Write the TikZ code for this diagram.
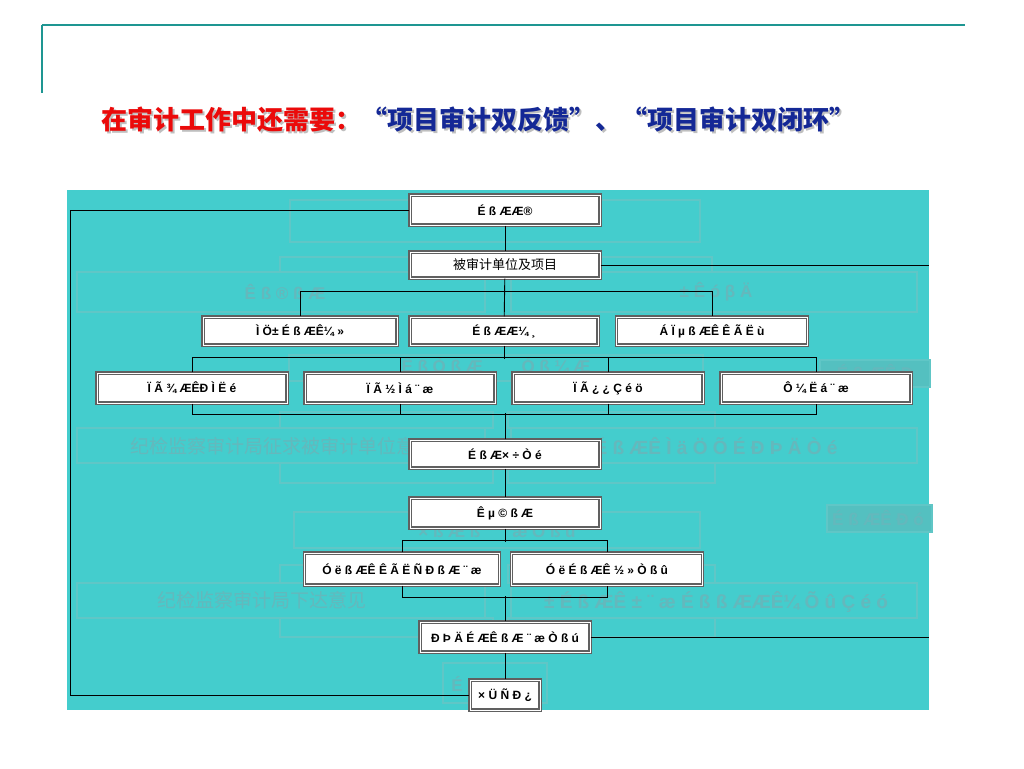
\documentclass[tikz,border=0pt]{standalone}
\usepackage{fontspec}
\setmainfont{Liberation Sans}
\newfontfamily\cjk{Noto Sans CJK SC}
\definecolor{bgteal}{RGB}{68,205,205}
\definecolor{ghostline}{RGB}{96,198,198}
\definecolor{ghosttxt}{RGB}{100,184,188}
\definecolor{ghostdark}{RGB}{84,192,192}
\definecolor{frameteal}{RGB}{30,150,146}
\definecolor{titlered}{RGB}{235,10,10}
\definecolor{titleblue}{RGB}{20,40,150}

\begin{document}
\begin{tikzpicture}[x=1pt,y=-1pt,
    box/.style={draw=gray!75!black,line width=1.1pt,double=white,double distance=1pt,
        fill=white,inner sep=0pt,minimum width=190pt,minimum height=30pt,
        font=\fontsize{12}{13}\selectfont\bfseries},
    ghost/.style={draw=ghostline,line width=1.2pt},
    ghosttext/.style={text=ghosttxt,font=\fontsize{17}{18}\selectfont\bfseries}]
    \tikzstyle{link}=[draw=black,line width=.9pt]

    \useasboundingbox (0,0) rectangle (1024,768);

    % slide frame and title
    \draw[frameteal,line width=2pt] (42,25) -- (965,25);
    \draw[frameteal,line width=1.5pt] (42,25) -- (42,93);
    \node[anchor=west,text=gray!50,font=\cjk\bfseries\fontsize{26}{28}\selectfont] (titleshadow) at (99.5,121.5)
        {在审计工作中还需要：“项目审计双反馈”、“项目审计双闭环”};
    \node[anchor=west,font=\cjk\bfseries\fontsize{26}{28}\selectfont] (title) at (98,120)
        {\textcolor{titlered}{在审计工作中还需要：}\textcolor{titleblue}{“项目审计双反馈”、“项目审计双闭环”}};

    % background and faint layer
    \fill[bgteal] (67,190) rectangle (929,710);
    \draw[ghost] (290,200) rectangle (700,242);
    \draw[ghost] (280,257) rectangle (493,272);
    \draw[ghost] (508,257) rectangle (712,272);
    \draw[ghost] (77,272) rectangle (485,312);
    \draw[ghost] (511,272) rectangle (917,312);
    \draw[ghost] (289,355) rectangle (703,381);
    \draw[ghost,fill=ghostdark] (820,360) rectangle (930,387);
    \draw[ghost] (280,412) rectangle (493,428);
    \draw[ghost] (508,412) rectangle (715,428);
    \draw[ghost] (77,428) rectangle (485,463);
    \draw[ghost] (511,428) rectangle (917,463);
    \draw[ghost] (280,463) rectangle (493,483);
    \draw[ghost] (508,463) rectangle (715,483);
    \draw[ghost] (294,512) rectangle (700,548);
    \draw[ghost,fill=ghostdark] (827,505) rectangle (932,532);
    \draw[ghost] (280,565) rectangle (493,583);
    \draw[ghost] (508,565) rectangle (715,583);
    \draw[ghost] (77,583) rectangle (485,618);
    \draw[ghost] (511,583) rectangle (917,618);
    \draw[ghost] (280,618) rectangle (493,637);
    \draw[ghost] (508,618) rectangle (715,637);
    \draw[ghost] (443,663) rectangle (547,703);

    \node[ghosttext] (g1) at (285,292) {Ê ß ® ß Æ};
    \node[ghosttext] (g2) at (716,292) {± Ê ó β Ä};
    \node[ghosttext] (g3) at (496,366) {Ê ß Ò ß Æ \quad\quad Ó ß ¼ Æ};
    \node[ghosttext] (g4) at (875,372) {É ß ÆÊ Ð};
    \node[ghosttext,font=\cjk\fontsize{19}{20}\selectfont] (g5) at (282,446) {纪检监察审计局征求被审计单位意见};
    \node[ghosttext,font=\fontsize{19}{20}\selectfont\bfseries] (g6) at (716,446) {É ß ÆÊ Ì ä Ö Õ É Ð Þ Ä Ò é};
    \node[ghosttext] (g7) at (497,530) {× ß Æ ß \quad ¨ æ Ò ß û};
    \node[ghosttext] (g8) at (878,518) {É ß ÆÊ Ð ó};
    \node[ghosttext,font=\cjk\fontsize{19}{20}\selectfont] (g9) at (262,600) {纪检监察审计局下达意见};
    \node[ghosttext,font=\fontsize{19}{20}\selectfont\bfseries] (g10) at (716,602) {± É ß ÆÊ ± ¨ æ É ß ß ÆÆÊ¼ Õ û Ç é ó};
    \node[ghosttext] (g11) at (457,684) {É};

    % flow
    \node[box] (plan) at (505,210) {É ß ÆÆ®};
    \node[box,minimum height=26pt,font=\cjk\fontsize{13}{14}\selectfont] (unit) at (505,265) {被审计单位及项目};
    \node[box,minimum width=194pt,minimum height=28pt] (prepa) at (300,331) {Ì Ö± É ß ÆÊ¼ »};
    \node[box,minimum width=188pt,minimum height=28pt] (prepb) at (504,331) {É ß ÆÆ¼ ¸};
    \node[box,minimum width=191pt,minimum height=28pt] (prepc) at (712,331) {Á Ï µ ß ÆÊ Ê Ã Ë ù};
    \node[box] (exa) at (192,388) {Ï Ã ¾ ÆÊÐ Ì Ë é};
    \node[box] (exb) at (400,388) {Ï Ã ½ Ì á ¨ æ};
    \node[box] (exc) at (608,388) {Ï Ã ¿ ¿ Ç é ö};
    \node[box] (exd) at (816,388) {Ô ¼ Ë á ¨ æ};
    \node[box,minimum height=28pt] (report) at (505,454) {É ß Æ× ÷ Ò é};
    \node[box] (impl) at (505,513) {Ê µ © ß Æ};
    \node[box,minimum width=195pt,minimum height=32pt] (fba) at (402,569) {Ó ë ß ÆÊ Ê Ã Ë Ñ Ð ß Æ ¨ æ};
    \node[box,minimum width=191pt,minimum height=32pt] (fbb) at (607,569) {Ó ë É ß ÆÊ ½ » Ò ß û};
    \node[box,minimum width=170pt] (revise) at (505,637) {Ð Þ Ä É ÆÊ ß Æ ¨ æ Ò ß ú};
    \node[box,minimum width=70pt] (close) at (505,695) {× Ü Ñ Ð ¿};

    \coordinate (lft) at (70,210);
    \coordinate (rgta) at (929,265);
    \coordinate (rgtb) at (929,637);

    \draw[link] (plan) -- (unit);
    \draw[link] (plan.west) -- (lft) |- (close.west);
    \draw[link] (unit.east) -- (rgta);
    \draw[link] (unit) -- (prepb);
    \draw[link] (prepa.north) -- ++(0,-25) -| (prepc.north);
    \draw[link] (prepb.south) -- ++(0,13);
    \draw[link] (exa.north) -- ++(0,-15) -| (exd.north);
    \draw[link] (exb.north) -- ++(0,-15);
    \draw[link] (exc.north) -- ++(0,-15);
    \draw[link] (exa.south) -- ++(0,11) -| (exd.south);
    \draw[link] (exb.south) -- ++(0,11);
    \draw[link] (exc.south) -- ++(0,11);
    \draw[link] (report.north) -- ++(0,-26);
    \draw[link] (report) -- (impl);
    \draw[link] (impl.south) -- ++(0,13);
    \draw[link] (fba.north) -- ++(0,-12) -| (fbb.north);
    \draw[link] (fba.south) -- ++(0,12) -| (fbb.south);
    \draw[link] (revise.north) -- ++(0,-25);
    \draw[link] (revise) -- (close);
    \draw[link] (revise.east) -- (rgtb);

\end{tikzpicture}
\end{document}
